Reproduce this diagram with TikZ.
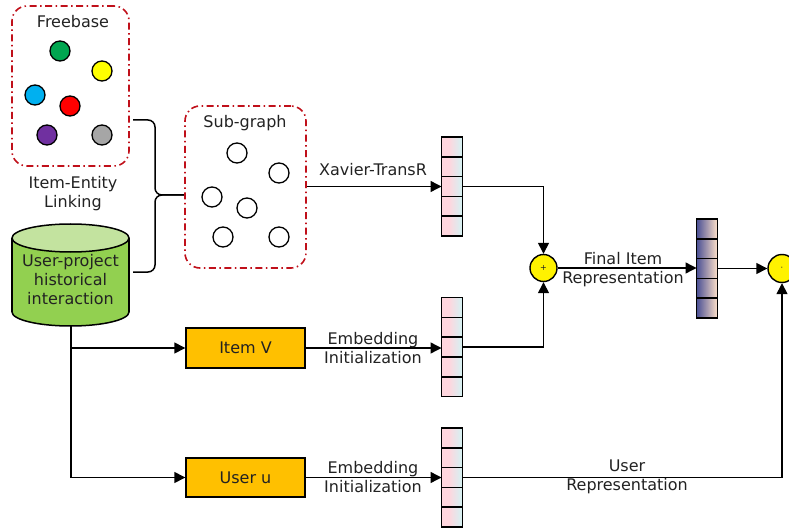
\documentclass[tikz,border=0pt]{standalone}
\usepackage{fontspec}
\setmainfont{DejaVu Sans}
\usetikzlibrary{arrows.meta,calc}
\definecolor{txt}{HTML}{222222}
\definecolor{dred}{HTML}{C0101A}
\definecolor{cgreen}{HTML}{00A650}
\definecolor{cyellow}{HTML}{FFFF00}
\definecolor{cblue}{HTML}{00B0F0}
\definecolor{cred}{HTML}{FF0000}
\definecolor{cpurple}{HTML}{7030A0}
\definecolor{cgray}{HTML}{A6A6A6}
\definecolor{cylbody}{HTML}{92D050}
\definecolor{cyltop}{HTML}{C3E39F}
\definecolor{orangebox}{HTML}{FFC000}
\definecolor{vpink}{HTML}{FFD6DE}
\definecolor{vcyan}{HTML}{D3F3F4}
\definecolor{vdark}{HTML}{4A4F94}
\definecolor{vpeach}{HTML}{FFE2CA}
% #1 node name, #2 left colour, #3 right colour, #4 fraction where transition starts
\newcommand\vecgrad[4]{%
  \foreach \i in {0,...,20}{%
    \pgfmathsetmacro\vt{(\i+0.5)/21}%
    \pgfmathsetmacro\vp{max(0,(\vt-#4)/(1-#4))*100}%
    \fill[#3!\vp!#2] ($(#1.north west)+(\i,0)$) rectangle ($(#1.south west)+(\i+1.15,0)$);}%
  \draw[line width=1.6pt] (#1.north west) rectangle (#1.south east);
  \foreach \k in {1,2,3,4}{%
    \draw[line width=1.6pt] ($(#1.north west)!\k/5!(#1.south west)$) -- ($(#1.north east)!\k/5!(#1.south east)$);}}
\begin{document}
\begin{tikzpicture}[x=1pt,y=-1pt,
  every node/.style={font=\fontsize{16}{19}\selectfont, text=txt},
  redbox/.style={draw=dred, line width=1.6pt, dash pattern=on 7pt off 3.5pt on 1.5pt off 3.5pt, rounded corners=15pt, rectangle},
  dotc/.style={circle, draw=black, line width=1.3pt, minimum size=20pt, inner sep=0pt},
  obox/.style={rectangle, draw=black, line width=1.4pt, fill=orangebox, minimum width=119pt, minimum height=39pt, inner sep=0pt},
  vecbox/.style={rectangle, minimum width=21pt, minimum height=99pt, inner sep=0pt, outer sep=0pt},
  opc/.style={circle, draw=black, line width=1.4pt, fill=yellow, minimum size=27pt, inner sep=0pt},
  arr/.style={line width=1.4pt, draw=black, -{Triangle[length=11pt,width=11pt]}},
  lbl/.style={align=center, inner sep=0pt}
]
\useasboundingbox (0,0) rectangle (789,529);

% Freebase box
\node[redbox, minimum width=117pt, minimum height=160pt] (fb) at (70.5,86) {};
\node[lbl] (fbt) at (73,22) {Freebase};
\node[dotc, fill=cgreen] (c1) at (60,51) {};
\node[dotc, fill=cyellow] (c2) at (102,71) {};
\node[dotc, fill=cblue] (c3) at (35,95) {};
\node[dotc, fill=cred] (c4) at (70,106) {};
\node[dotc, fill=cpurple] (c5) at (47,135) {};
\node[dotc, fill=cgray] (c6) at (102,135) {};
\node[lbl] (iel) at (73,193.5) {Item-Entity\\Linking};

% Cylinder
\filldraw[fill=cylbody, draw=black, line width=1.5pt] (70.5,312) ellipse[x radius=58.5pt, y radius=14pt];
\fill[cylbody] (12,238) rectangle (129,312);
\draw[line width=1.5pt] (12,238) -- (12,312) (129,238) -- (129,312);
\filldraw[fill=cyltop, draw=black, line width=1.5pt] (70.5,238) ellipse[x radius=58.5pt, y radius=14pt];
\node[lbl] (cyl) at (70.5,280) {User-project\\historical\\interaction};
\coordinate (cylbot) at (71,326);

% Brace
\draw[line width=1.5pt, rounded corners=7pt] (133,120) -- (155,120) -- (155,195) -- (185,195);
\draw[line width=1.5pt, rounded corners=7pt] (185,195) -- (155,195) -- (155,272) -- (133,272);

% Sub-graph box
\node[redbox, minimum width=121pt, minimum height=162pt] (sg) at (245.5,187) {};
\node[lbl] (sgt) at (245,123) {Sub-graph};
\node[dotc, fill=white] (s1) at (237,153) {};
\node[dotc, fill=white] (s2) at (279,173) {};
\node[dotc, fill=white] (s3) at (212,197) {};
\node[dotc, fill=white] (s4) at (247,208) {};
\node[dotc, fill=white] (s5) at (223,237) {};
\node[dotc, fill=white] (s6) at (279,237) {};

% Boxes
\node[obox, minimum height=40pt] (iv) at (245.5,348) {Item V};
\node[obox] (uu) at (245.5,477.5) {User u};

% Vectors
\node[vecbox] (v1) at (452,186.5) {};
\vecgrad{v1}{vpink}{vcyan}{0.35}
\node[vecbox] (v2) at (452,347) {};
\vecgrad{v2}{vpink}{vcyan}{0.35}
\node[vecbox] (v3) at (452,477.5) {};
\vecgrad{v3}{vpink}{vcyan}{0.35}
\node[vecbox] (v4) at (707,268.5) {};
\vecgrad{v4}{vdark}{vpeach}{0}

% Operators
\node[opc] (plus) at (543.5,268) {\fontsize{8}{8}\selectfont +};
\node[opc, minimum size=28pt] (dotop) at (782,268.5) {\fontsize{8}{8}\selectfont ·};

% Connectors
\draw[arr] (sg.east |- v1.west) -- (v1.west);
\node[lbl] (xt) at (373,170) {Xavier-TransR};
\draw[arr] (v1.east) -| (plus.north);
\draw[arr] (v2.east) -| (plus.south);
\draw[arr] (plus.east) -- (v4.west |- plus.east);
\node[lbl] (fir) at (623,269.5) {Final Item\\Representation};
\draw[arr] (v4.east |- dotop.west) -- (dotop.west);
\draw[arr] (v3.east) -| (dotop.south);
\node[lbl] (urep) at (627,477) {User\\Representation};
\draw[arr] (cylbot) |- (iv.west);
\draw[arr] (cylbot) |- (uu.west);
\draw[arr] (iv.east) -- (v2.west |- iv.east);
\node[lbl] (ei1) at (373,348.5) {Embedding\\Initialization};
\draw[arr] (uu.east) -- (v3.west |- uu.east);
\node[lbl] (ei2) at (373,477) {Embedding\\Initialization};
\end{tikzpicture}
\end{document}
